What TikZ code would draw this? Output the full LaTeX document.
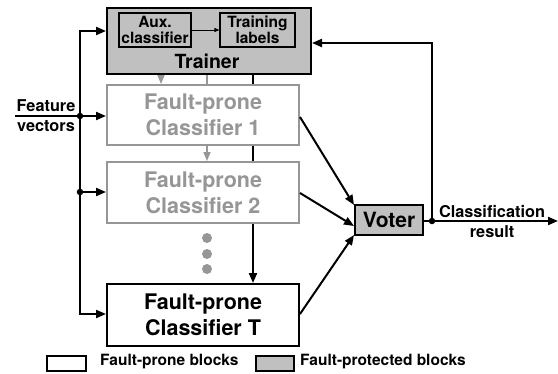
\documentclass[tikz,border=0pt]{standalone}
\usepackage{fontspec}
\setmainfont{TeX Gyre Heros}
\usetikzlibrary{arrows.meta}
\definecolor{protgray}{RGB}{192,192,192}
\definecolor{fadegray}{RGB}{150,150,150}
\pgfdeclarelayer{back}
\pgfsetlayers{back,main}
\newcommand{\bigtxt}{\fontsize{21.5pt}{26pt}\selectfont}
\newcommand{\smalltxt}{\fontsize{15.5pt}{18.5pt}\selectfont}
\newcommand{\midtxt}{\fontsize{16.3pt}{19pt}\selectfont}
\begin{document}
\begin{tikzpicture}[x=1pt,y=-1pt,font=\bfseries,
  block/.style={draw,rectangle,line width=2pt,inner sep=0pt,align=center},
  protblock/.style={block,fill=protgray},
  weakblock/.style={block,draw=fadegray,text=fadegray,fill=white},
  subblock/.style={draw,rectangle,line width=1.2pt,inner sep=0pt,align=center,font=\bfseries\smalltxt},
  wire/.style={line width=2pt,-{Triangle[length=10pt,width=8pt]}},
  graywire/.style={line width=1.6pt,draw=fadegray,-{Triangle[length=9pt,width=7pt]},fadegray},
  junction/.style={circle,fill=black,inner sep=0pt,minimum size=6.5pt},
  txtlabel/.style={font=\bfseries\smalltxt,align=center,inner sep=0pt},
  sidelabel/.style={font=\bfseries\midtxt,inner sep=0pt,anchor=base}]
\useasboundingbox (0,0) rectangle (558,373);

% Trainer with its two sub-blocks
\node[protblock,minimum width=204pt,minimum height=66pt] (trainer) at (209,41) {};
\node[subblock,minimum width=72pt,minimum height=34pt] (aux) at (155,30) {Aux.\\[-3pt]classifier};
\node[subblock,minimum width=75pt,minimum height=34pt] (labels) at (257.5,30) {Training\\[-3pt]labels};
\node[inner sep=0pt,font=\bfseries\fontsize{19.5pt}{22pt}\selectfont] (trainertxt) at (207,61) {Trainer};
\draw[line width=0.8pt,-{Triangle[length=5pt,width=4pt]}] (aux) -- (labels);

% Classifier ensemble
\node[weakblock,minimum width=192pt,minimum height=60pt,font=\bfseries\bigtxt] (cls1) at (203,115) {Fault-prone\\Classifier 1};
\node[weakblock,minimum width=192pt,minimum height=61pt,font=\bfseries\bigtxt] (cls2) at (203,192.5) {Fault-prone\\Classifier 2};
\node[block,fill=white,minimum width=192pt,minimum height=62pt,font=\bfseries\bigtxt] (clsT) at (203,315) {Fault-prone\\Classifier T};
\foreach \yy/\nm in {238/dotA,254/dotB,269/dotC}
  \node[circle,fill=fadegray,inner sep=0pt,minimum size=10pt] (\nm) at (207,\yy) {};

% Voter
\node[protblock,minimum width=68pt,minimum height=30pt,font=\bfseries\fontsize{21pt}{24pt}\selectfont] (voter) at (389,220) {Voter};

% Lines from the trainer, running behind the classifier blocks
\coordinate (tapA) at (161,0);
\coordinate (tapB) at (207,0);
\coordinate (tapC) at (253,0);
\begin{pgfonlayer}{back}
  \draw[graywire] (tapA |- trainer.south) -- (tapA |- cls1.north);
  \draw[graywire] (tapB |- trainer.south) -- (tapB |- cls2.north);
  \draw[wire] (tapC |- trainer.south) -- (tapC |- clsT.north);
\end{pgfonlayer}

% Feature vectors input
\node[sidelabel] (feat) at (46,111.5) {Feature};
\node[sidelabel] (vect) at (46,131) {vectors};
\coordinate (inStart) at (15,116);
\node[junction] (j1) at (80,116) {};
\node[junction] (j2) at (80,192) {};
\coordinate (busTop) at (80,31);
\coordinate (busBot) at (80,314);
\draw[line width=2pt] (inStart) -- (j1);
\draw[wire] (j1) -- (cls1.west |- j1);
\draw[wire] (j2) -- (cls2.west |- j2);
\draw[wire] (j1) -- (busTop) -- (trainer.west |- busTop);
\draw[wire] (j1) -- (busBot) -- (clsT.west |- busBot);

% Classifier outputs to the voter
\draw[wire] (cls1.east |- 0,117) -- ([yshift=-1pt]voter.north west);
\draw[wire] (cls2.east |- 0,193) -- ([yshift=-6pt]voter.west);
\draw[wire] (clsT.east |- 0,314) -- ([yshift=1pt]voter.south west);

% Voter output and feedback to the trainer
\node[junction] (j3) at (432,221) {};
\coordinate (outEnd) at (558,221);
\coordinate (fbTop) at (432,43);
\draw[line width=2pt] (voter.east |- j3) -- (j3);
\draw[wire] (j3) -- (outEnd);
\draw[wire] (j3) -- (fbTop) -- (trainer.east |- fbTop);
\node[sidelabel] (clsout) at (492,217) {Classification};
\node[sidelabel] (result) at (492,237) {result};

% Legend
\node[draw,line width=1.5pt,minimum width=39pt,minimum height=15pt,inner sep=0pt] (legA) at (66.5,363.5) {};
\node[txtlabel,anchor=west] (legAtxt) at (100,362) {Fault-prone blocks};
\node[draw,line width=1.5pt,fill=protgray,minimum width=38pt,minimum height=15pt,inner sep=0pt] (legB) at (275,363.5) {};
\node[txtlabel,anchor=west] (legBtxt) at (300,362) {Fault-protected blocks};
\end{tikzpicture}
\end{document}
